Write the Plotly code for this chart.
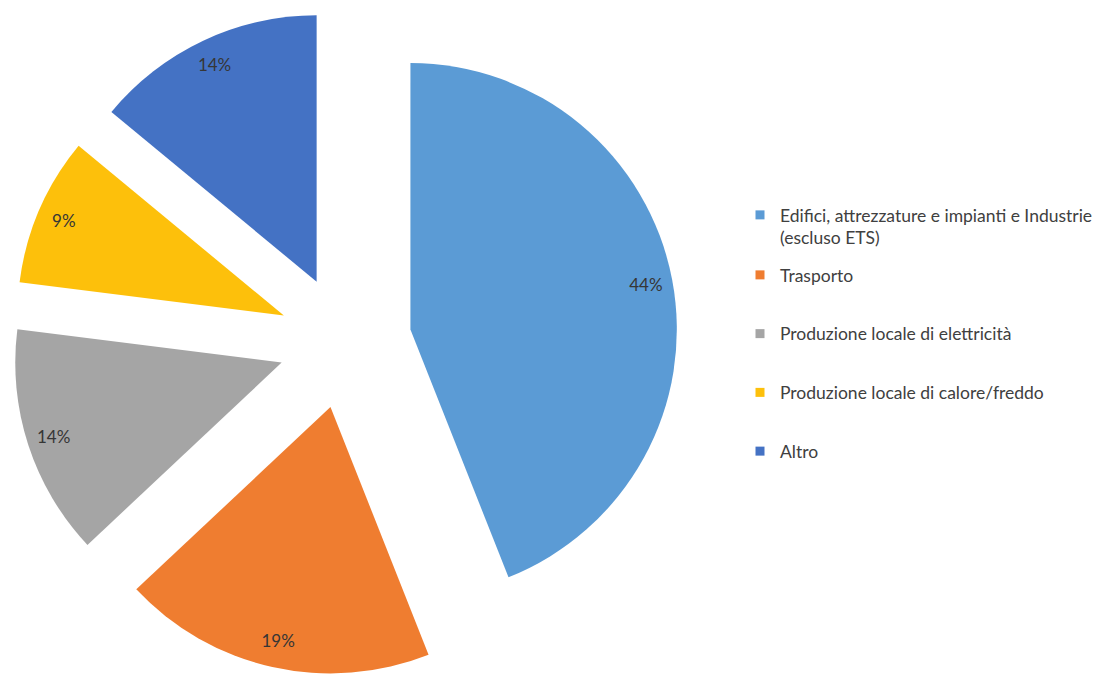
import plotly.graph_objects as go

# ---- data ----
categories = [
    "Edifici, attrezzature e impianti e Industrie<br>(escluso ETS)",
    "Trasporto",
    "Produzione locale di elettricità",
    "Produzione locale di calore/freddo",
    "Altro",
]
shares = [44, 19, 14, 9, 14]
colors = ["#5B9BD5", "#EF7D30", "#A5A5A5", "#FDC00B", "#4472C4"]

# ---- style / layout ----
W, H = 1110, 675
pull_frac = 0.25
pie_domain = dict(x=[12 / W, 678 / W], y=[0.0, 1 - 9 / H])
font_family = "Lato, 'Open Sans', sans-serif"

fig = go.Figure()

# solid exploded pie
fig.add_trace(go.Pie(
    labels=categories, values=shares, sort=False, direction="clockwise", rotation=0,
    pull=[pull_frac] * len(shares),
    marker=dict(colors=colors, line=dict(width=0)),
    textinfo="none", showlegend=False, domain=pie_domain,
    hoverinfo="label+percent",
))

# transparent ring carrying the percentage labels near the outer edge
fig.add_trace(go.Pie(
    labels=categories, values=shares, sort=False, direction="clockwise", rotation=0,
    pull=[pull_frac] * len(shares), hole=0.8,
    marker=dict(colors=["rgba(0,0,0,0)"] * len(shares), line=dict(width=0)),
    textinfo="percent", textposition="inside", insidetextorientation="horizontal",
    textfont=dict(family=font_family, size=17, color="#363636"),
    showlegend=False, domain=pie_domain, hoverinfo="skip",
))

# legend entries
for i, (lab, col) in enumerate(zip(categories, colors)):
    fig.add_trace(go.Scatter(
        x=[None], y=[None], mode="markers",
        marker=dict(symbol="square", size=9, color=col),
        name=lab, legendgroup=f"g{i}",
        legend="legend2" if i == 0 else "legend",
        hoverinfo="skip",
    ))

legend_font = dict(family=font_family, size=17.5, color="#404040")
fig.update_layout(
    width=W, height=H,
    margin=dict(l=0, r=0, t=0, b=0),
    paper_bgcolor="white", plot_bgcolor="white",
    xaxis=dict(visible=False), yaxis=dict(visible=False),
    showlegend=True,
    legend=dict(x=740 / W, y=1 - 257 / H, xanchor="left", yanchor="top",
                tracegroupgap=33, font=legend_font, bgcolor="rgba(0,0,0,0)",
                itemclick=False),
    legend2=dict(x=740 / W, y=1 - 197 / H, xanchor="left", yanchor="top",
                 valign="top", font=legend_font, bgcolor="rgba(0,0,0,0)",
                 itemclick=False),
)

fig.write_html("out.html", config={"displayModeBar": False},
               post_script="document.body.style.margin='0';")
